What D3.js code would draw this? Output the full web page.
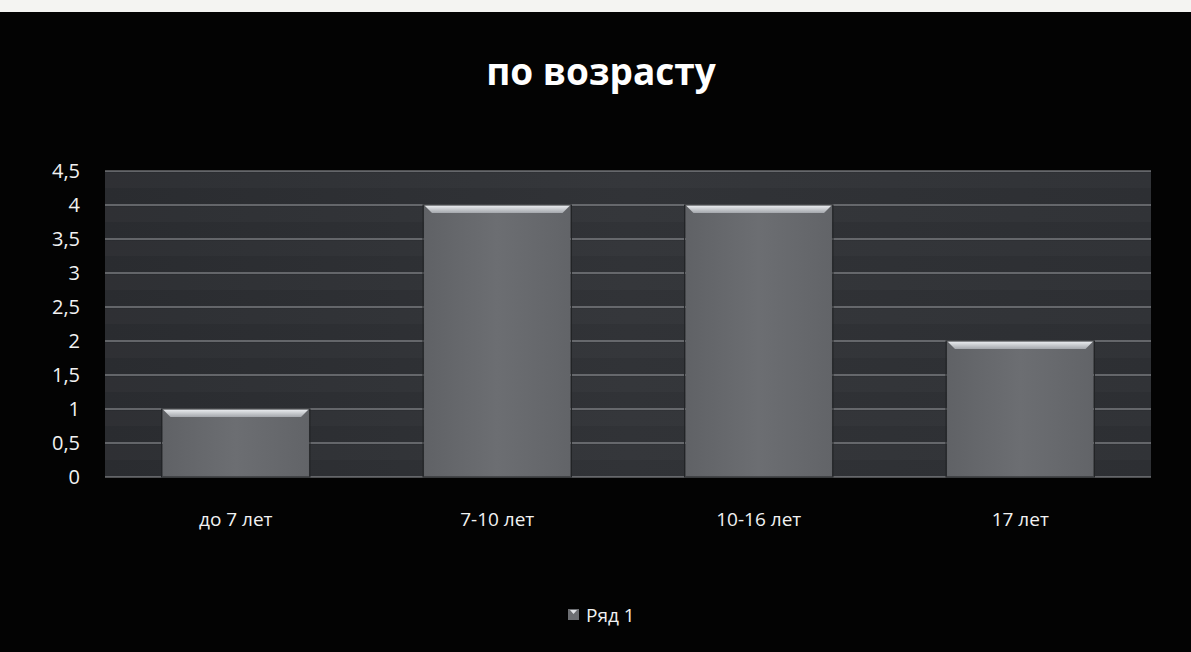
<!DOCTYPE html>
<html>
<head>
<meta charset="utf-8">
<script src="https://d3js.org/d3.v7.min.js"></script>
<style>
  body { margin: 0; background: #000; }
  svg { display: block; }
  text { font-family: 'Open Sans', 'DejaVu Sans', sans-serif; }
</style>
</head>
<body>
<div id="chart"></div>
<script>
var categories = ["до 7 лет", "7-10 лет", "10-16 лет", "17 лет"];
var values = [1, 4, 4, 2];
var yTicks = [0, 0.5, 1, 1.5, 2, 2.5, 3, 3.5, 4, 4.5];
var seriesName = "Ряд 1";
var title = "по возрасту";

var w = 1191, h = 652;
var m = { left: 105, right: 40, top: 171, bottom: 175 };

var svg = d3.select("#chart").append("svg")
    .attr("width", w)
    .attr("height", h);

var defs = svg.append("defs");

var bg = defs.append("linearGradient").attr("id", "plotbg")
    .attr("x1", 0).attr("y1", 0).attr("x2", 1).attr("y2", 0);
bg.append("stop").attr("offset", "0%").attr("stop-color", "#2a2c30");
bg.append("stop").attr("offset", "50%").attr("stop-color", "#313337");
bg.append("stop").attr("offset", "100%").attr("stop-color", "#2d2f33");

var barGrad = defs.append("linearGradient").attr("id", "bar")
    .attr("x1", 0).attr("y1", 0).attr("x2", 1).attr("y2", 0);
barGrad.append("stop").attr("offset", "0%").attr("stop-color", "#606266");
barGrad.append("stop").attr("offset", "50%").attr("stop-color", "#6c6e72");
barGrad.append("stop").attr("offset", "100%").attr("stop-color", "#626468");

var topGrad = defs.append("linearGradient").attr("id", "bartop")
    .attr("x1", 0).attr("y1", 0).attr("x2", 0).attr("y2", 1);
topGrad.append("stop").attr("offset", "0%").attr("stop-color", "#f0f2f5");
topGrad.append("stop").attr("offset", "100%").attr("stop-color", "#a4a7ac");

// page background
svg.append("rect").attr("width", w).attr("height", h).attr("fill", "#030303");
svg.append("rect").attr("width", w).attr("height", 12).attr("fill", "#f4f4f2");

svg.append("text")
    .attr("x", 601).attr("y", 85)
    .attr("text-anchor", "middle")
    .attr("fill", "#fff")
    .style("font-size", "37px")
    .style("font-weight", "bold")
    .text(title);

var x = d3.scaleBand()
    .domain(categories)
    .range([m.left, w - m.right])
    .paddingInner(0.44)
    .paddingOuter(0.22);

var y = d3.scaleLinear()
    .domain([0, 4.5])
    .range([h - m.bottom, m.top]);

var fmt = function(d) { return String(d).replace(".", ","); };

// plot area
svg.append("rect")
    .attr("x", m.left).attr("y", m.top)
    .attr("width", w - m.left - m.right)
    .attr("height", y(0) - m.top)
    .attr("fill", "url(#plotbg)");

// faint horizontal banding
svg.append("g").selectAll("rect")
    .data(yTicks.slice(0, -1))
    .enter().append("rect")
    .attr("x", m.left)
    .attr("y", function(d) { return y(d + 0.5) + 2; })
    .attr("width", w - m.left - m.right)
    .attr("height", (y(0) - y(0.5)) / 2 - 2)
    .attr("fill", "#fff")
    .attr("opacity", 0.025);

// grid
svg.append("g").selectAll("line")
    .data(yTicks)
    .enter().append("line")
    .attr("x1", m.left).attr("x2", w - m.right)
    .attr("y1", function(d) { return y(d); })
    .attr("y2", function(d) { return y(d); })
    .attr("stroke", "#9c9ea2")
    .attr("stroke-width", 1.2);

// bars
var bars = svg.append("g").selectAll("g")
    .data(values)
    .enter().append("g");

bars.append("rect")
    .attr("x", function(d, i) { return x(categories[i]); })
    .attr("y", function(d) { return y(d); })
    .attr("width", x.bandwidth())
    .attr("height", function(d) { return y(0) - y(d); })
    .attr("fill", "url(#bar)");

bars.append("path")
    .attr("d", function(d, i) {
      var x0 = x(categories[i]), x1 = x0 + x.bandwidth(), t = y(d), b = 8;
      return "M" + x0 + "," + t + "L" + x1 + "," + t +
             "L" + (x1 - b) + "," + (t + b) + "L" + (x0 + b) + "," + (t + b) + "Z";
    })
    .attr("fill", "url(#bartop)");

bars.append("rect")
    .attr("x", function(d, i) { return x(categories[i]) - 1; })
    .attr("y", function(d) { return y(d); })
    .attr("width", x.bandwidth() + 2)
    .attr("height", function(d) { return y(0) - y(d); })
    .attr("fill", "none")
    .attr("stroke", "#222427")
    .attr("stroke-width", 1);

// y axis labels
var yAxis = d3.axisLeft(y).tickValues(yTicks).tickFormat(fmt).tickSize(0).tickPadding(25);
var gy = svg.append("g").attr("transform", "translate(" + m.left + ",0)").call(yAxis);
gy.attr("font-family", null).attr("font-size", null);
gy.select(".domain").remove();
gy.selectAll("text").attr("fill", "#f2f2f2").style("font-size", "20px");

// x axis labels
var xAxis = d3.axisBottom(x).tickSize(0).tickPadding(36);
var gx = svg.append("g").attr("transform", "translate(0," + y(0) + ")").call(xAxis);
gx.attr("font-family", null).attr("font-size", null);
gx.select(".domain").remove();
gx.selectAll("text").attr("fill", "#f2f2f2").style("font-size", "19px");

// legend
var lg = svg.append("g").attr("transform", "translate(568,615)");
lg.append("rect").attr("x", 0).attr("y", -6).attr("width", 11).attr("height", 11).attr("fill", "#6c6e72");
lg.append("path").attr("d", "M2,-5L9,-5L5.5,-1Z").attr("fill", "#e0e2e6");
lg.append("text").attr("x", 18).attr("y", 0).attr("dy", "0.35em")
    .attr("fill", "#f2f2f2").style("font-size", "19px").text(seriesName);
</script>
</body>
</html>
